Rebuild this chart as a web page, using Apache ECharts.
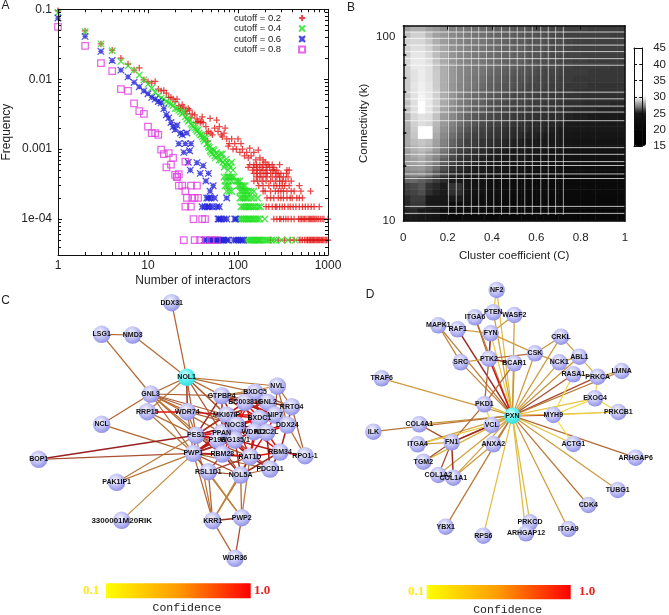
<!DOCTYPE html>
<html><head><meta charset="utf-8">
<style>html,body{margin:0;padding:0;background:#fff}#c{width:669px;height:615px;filter:blur(.4px)}</style>
<script src="https://cdn.jsdelivr.net/npm/echarts@6/dist/echarts.min.js"></script></head>
<body><div id="c"></div>
<script>
/* ---------- panel A ---------- */
const seriesNames = ['cutoff = 0.2','cutoff = 0.4','cutoff = 0.6','cutoff = 0.8'];
const xTickValues = [1,10,100,1000];
const yTickValues = [1e-4,1e-3,0.01,0.1];
const yTickLabels = {'0.0001':'1e-04','0.001':'0.001','0.01':'0.01','0.1':'0.1'};
const redPoints = [[1,.095],[2,.049],[3,.032],[4,.026],[5,.02],[6,.0165],[7,.0135],[8,.0145],[9,.0098],[10,.0092],[11,.0088],[12,.0093],[13,.0072],[14,.0068],[15,.0069],[16,.0063],[17,.0055],[18,.0055],[19,.0052],[20,.0048],[21,.0052],[22,.0042],[23,.0038],[24,.0043],[25,.004],[26,.0035],[27,.0032],[28,.0038],[29,.0036],[30,.0028],[31,.0032],[33,.0031],[34,.0024],[35,.0027],[36,.0025],[38,.0024],[39,.0025],[40,.0029],[41,.0024],[44,.0021],[45,.0017],[46,.0013],[47,.0018],[49,.00275],[50,.0017],[52,.0016],[55,.002],[58,.0026],[60,.0018],[62,.0021],[65,.0016],[67,.0015],[70,.0017],[72,.002],[75,.0014],[78,.0011],[80,.0012],[85,.0014],[88,.001],[92,.0012],[96,.001],[100,.0014],[105,.0009],[108,.0012],[112,.001],[118,.0008],[125,.0009],[130,.00075],[135,.00103],[140,.0008],[150,.0009],[158,.0007],[168,.00097],[175,.00075],[190,.0007],[200,.00065]];
const redLevels = {
 '6e-4':[135,150,160,175,190,210,220,240,290],
 '5.5e-4':[130,150,165,185,205,225,250],
 '5e-4':[145,160,175,190,210,240,250,270,350,370],
 '4.5e-4':[150,165,180,200,210,230,260,280,300,345],
 '4e-4':[160,175,190,210,240,270,290,320,360],
 '3.5e-4':[150,165,185,205,230,260,290,310,340,390],
 '3e-4':[170,190,220,250,270,290,310,330,370,480],
 '2.5e-4':[190,200,230,260,280,300,320,350,390,420,500,640],
 '2e-4':[210,230,250,280,300,320,350,380,400,450,480,520],
 '1.5e-4':[205,220,240,260,270,290,310,330,360,380,410,440,480,520,560,600,650,700,800],
 '1e-4':[250,270,290,300,320,340,360,390,420,470,490,510,530,550,570,600,620,640,660,680,700,720,750,780,820,860,900,1000],
 '5e-5':[230,280,330,380,420,480,500,520,550,570,590,600,620,640,650,670,690,700,720,740,760,780,800,820,850,870,900,930,960,1000]};
const greenPoints = [[1,.09],[2,.048],[3,.032],[4,.0255],[5,.018],[6,.0155],[7,.0135],[8,.0115],[9,.0098],[10,.0085],[11,.0075],[12,.0065],[13,.0058],[14,.0054],[15,.0052],[16,.0048],[17,.0046],[18,.0044],[19,.0042],[20,.0038],[21,.0038],[22,.0036],[23,.0034],[24,.0032],[25,.0034],[26,.0029],[27,.0027],[28,.0025],[29,.0026],[30,.0023],[31,.0022],[32,.0021],[33,.002],[34,.0019],[35,.0018],[36,.0019],[37,.0017],[38,.0016],[39,.0016],[40,.0015],[41,.0014],[42,.0013],[43,.0015],[44,.0014],[45,.0012],[46,.0012],[47,.0011],[48,.00105],[49,.00095],[50,.0009],[52,.00085],[53,.001],[54,.00095],[55,.0008],[56,.00075],[58,.0009],[60,.0008],[62,.0007],[64,.00085],[65,.0007],[67,.00085],[68,.00065],[70,.00055],[72,.0006],[74,.00072],[75,.00065],[78,.0005],[80,.0006],[82,.00055],[85,.00065],[88,.0005]];
const greenLevels = {
 '4e-4':[70,75,78,82,85,90],
 '3.5e-4':[72,78,85,95,100,105],
 '3e-4':[72,76,80,100,105,110,115,120],
 '2.5e-4':[75,80,85,105,110,115,120,125,130,140,150],
 '2e-4':[105,110,115,120,125,130,140,150,165],
 '1.5e-4':[108,113,118,123,128,133,138,145,152,160,170,178],
 '1e-4':[102,108,113,118,123,128,133,138,145,150,158,165,175,198],
 '5e-5':[125,130,135,140,145,150,155,160,165,170,175,180,190,200,210,220,235,250,265,305,360,430]};
const bluePoints = [[1,.075],[2,.041],[3,.025],[4,.0185],[5,.0135],[6,.0108],[7,.009],[8,.0078],[9,.0068],[10,.0062],[11,.0055],[12,.0052],[13,.0048],[14,.0046],[15,.0038],[16,.0031],[17,.0028],[18,.0024],[19,.0021],[20,.0019],[21,.0022],[22,.0012],[23,.0017],[24,.0016],[25,.0009],[26,.0012],[27,.0017],[28,.00065],[29,.00095],[30,.0012],[29.5,.0005],[35,.00064],[38,.00045],[41,.00058],[44,.00035],[47,.00045],[49,.00025],[53,.0003]];
const blueLevels = {
 '2e-4':[45,47,50,55,75],
 '1.5e-4':[40,43,46,48,52,58,62],
 '1e-4':[60,62,65,70,75,92,95],
 '5e-5':[42,45,48,50,53,55,58,60,63,65,68,70,75,78,90,95,100,105,110,115]};
const magentaPoints = [[1,.056],[2,.03],[3,.017],[4,.013],[5,.0072],[6,.0068],[7,.0045],[8,.0035],[9,.0032],[10,.0021],[11,.0017],[12,.0017],[13,.0016],[14,.00098],[15,.00085],[16,.00055],[17,.00088],[18,.0006],[19,.00075],[20,.00043],[21,.0004],[22,.00044],[26,.00066]];
const magentaLevels = {
 '4e-4':[21],
 '3e-4':[22,24,30,35],
 '2.5e-4':[26],
 '2e-4':[27,31,33,36],
 '1.5e-4':[26,30],
 '1e-4':[32,40,43],
 '5e-5':[25,33,38,44,50,58]};

/* ---------- panel B ---------- */
const heatRows = [
[28.0,28.3,28.3,28.0,27.8,27.5,27.2,27.0,26.9,26.8,26.7,26.6,26.5,26.5,26.4,26.3,26.3,26.2,26.1,26.1,26.0,26.0,25.9,25.9,25.9,25.8,25.8,25.8,25.8,25.8],
[28.6,29.0,29.0,28.5,28.0,27.8,27.4,27.2,27.0,26.9,26.8,26.7,26.6,26.5,26.5,26.4,26.3,26.3,26.2,26.2,26.1,26.0,25.9,25.9,25.9,25.9,25.9,25.9,25.8,25.8],
[29.0,29.2,29.2,28.8,28.3,27.9,27.5,27.3,27.1,27.0,26.9,26.8,26.7,26.6,26.5,26.4,26.4,26.3,26.3,26.2,26.1,26.1,26.0,25.9,25.9,25.9,25.9,25.9,25.9,25.9],
[29.0,29.4,29.4,29.0,28.5,28.1,27.6,27.4,27.2,27.0,26.9,26.8,26.7,26.6,26.6,26.5,26.4,26.3,26.3,26.2,26.1,26.1,26.0,25.9,25.9,25.9,25.9,25.9,25.9,25.9],
[29.0,29.6,29.6,29.2,28.6,28.2,27.7,27.4,27.2,27.0,26.9,26.8,26.7,26.6,26.6,26.5,26.4,26.3,26.3,26.2,26.1,26.1,26.0,26.0,25.9,25.9,25.9,25.9,25.9,25.9],
[29.1,29.7,29.7,29.4,28.7,28.2,27.7,27.4,27.2,27.0,26.9,26.8,26.7,26.6,26.5,26.5,26.4,26.3,26.2,26.2,26.1,26.0,26.0,25.9,25.9,25.8,25.8,25.8,25.8,25.8],
[29.0,29.7,29.7,29.5,28.8,28.3,27.8,27.4,27.2,27.0,26.9,26.8,26.7,26.6,26.5,26.4,26.3,26.3,26.2,26.1,26.1,26.0,25.9,25.8,25.8,25.8,25.8,25.8,25.7,25.7],
[29.0,29.5,29.8,29.5,28.9,28.3,27.8,27.4,27.2,27.0,26.9,26.7,26.6,26.5,26.4,26.3,26.3,26.2,26.1,26.0,26.0,25.9,25.8,25.8,25.8,25.7,25.7,25.7,25.7,25.7],
[28.9,29.5,29.8,29.5,28.9,28.3,27.8,27.4,27.1,26.9,26.8,26.6,26.5,26.4,26.3,26.2,26.2,26.1,26.0,26.0,25.9,25.8,25.8,25.7,25.7,25.7,25.7,25.7,25.7,25.7],
[28.9,29.6,29.9,29.6,28.9,28.3,27.7,27.3,27.1,26.9,26.7,26.5,26.4,26.3,26.3,26.2,26.1,26.0,26.0,25.9,25.8,25.8,25.7,25.7,25.7,25.6,25.6,25.6,25.6,25.6],
[28.9,29.5,29.9,29.6,29.0,28.3,27.7,27.3,27.0,26.8,26.6,26.5,26.4,26.3,26.2,26.1,26.0,26.0,25.9,25.8,25.8,25.7,25.7,25.6,25.6,25.6,25.6,25.6,25.6,25.6],
[28.8,29.5,30.2,29.7,29.0,28.3,27.7,27.2,26.9,26.7,26.6,26.4,26.3,26.2,26.1,26.0,26.0,25.9,25.8,25.8,25.7,25.7,25.6,25.6,25.5,25.5,25.5,25.5,25.5,25.5],
[28.6,29.4,33.0,29.7,29.0,28.2,27.6,27.1,26.9,26.6,26.5,26.3,26.2,26.1,26.0,26.0,25.9,25.8,25.8,25.7,25.7,25.6,25.5,25.5,25.4,25.4,25.4,25.4,25.3,25.3],
[28.6,29.4,33.0,29.6,28.9,28.1,27.5,27.0,26.8,26.5,26.4,26.2,26.1,26.0,25.9,25.8,25.8,25.7,25.7,25.6,25.6,25.5,25.4,25.3,25.3,25.3,25.2,25.2,25.2,25.2],
[28.4,29.2,29.5,29.4,28.7,27.9,27.4,26.9,26.6,26.4,26.2,26.1,26.0,25.9,25.8,25.7,25.6,25.6,25.5,25.5,25.4,25.4,25.2,25.1,25.1,25.0,25.0,25.0,25.0,25.0],
[28.3,29.0,29.4,29.2,28.5,27.8,27.2,26.8,26.5,26.3,26.1,26.0,25.9,25.8,25.7,25.6,25.5,25.4,25.4,25.3,25.3,25.2,25.0,25.0,24.9,24.8,24.8,24.8,24.8,24.8],
[28.2,28.9,38.0,38.0,28.4,27.6,27.0,26.6,26.3,26.1,25.9,25.8,25.7,25.6,25.5,25.4,25.4,25.3,25.3,25.2,25.1,25.0,24.8,24.6,24.5,24.5,24.5,24.5,24.5,24.5],
[28.2,28.8,38.0,38.0,28.2,27.4,26.8,26.4,26.1,25.9,25.8,25.7,25.6,25.5,25.4,25.3,25.2,25.2,25.1,25.0,25.0,24.8,24.4,24.2,24.2,24.2,24.2,24.2,24.0,24.0],
[28.2,28.6,28.8,28.6,28.0,27.2,26.6,26.2,25.9,25.8,25.6,25.5,25.4,25.3,25.2,25.1,25.0,25.0,24.8,24.6,24.5,24.4,24.0,23.8,23.6,23.5,23.5,23.5,23.5,23.5],
[28.0,28.4,28.6,28.4,27.8,27.0,26.4,26.0,25.8,25.6,25.4,25.3,25.2,25.1,25.0,24.9,24.8,24.6,24.4,24.2,24.0,23.8,23.5,23.4,23.3,23.3,23.3,23.3,23.3,23.3],
[27.8,28.2,28.4,28.0,27.5,26.8,26.2,25.8,25.6,25.4,25.3,25.2,25.1,25.0,24.8,24.6,24.4,24.2,24.0,23.8,23.6,23.5,23.3,23.2,23.2,23.1,23.1,23.1,23.1,23.1],
[27.8,28.0,28.2,27.8,27.2,26.5,26.0,25.6,25.4,25.3,25.1,25.0,24.8,24.6,24.4,24.2,24.0,23.8,23.6,23.4,23.3,23.2,23.1,23.0,23.0,22.9,22.9,22.9,22.9,22.9],
[27.6,27.8,27.9,27.4,26.8,26.2,25.6,25.4,25.2,25.0,24.8,24.5,24.2,24.0,23.8,23.6,23.4,23.2,23.0,22.9,22.8,22.6,22.5,22.4,22.4,22.3,22.3,22.3,22.3,22.3],
[27.2,27.4,27.5,27.0,26.4,25.9,25.4,25.2,25.0,24.6,24.2,24.0,23.6,23.4,23.2,23.0,22.8,22.6,22.5,22.4,22.3,22.2,22.1,22.0,22.0,22.0,22.0,22.0,22.0,22.0],
[26.6,26.7,26.5,26.2,25.8,25.4,25.0,24.6,24.0,23.6,23.3,23.0,22.8,22.6,22.4,22.3,22.2,22.1,22.0,22.0,21.9,21.8,21.8,21.7,21.7,21.7,21.6,21.6,21.6,21.6],
[25.9,26.1,26.3,25.6,25.3,25.0,25.6,25.6,24.4,23.6,23.2,22.8,22.6,22.4,22.2,22.1,22.0,21.9,21.8,21.8,21.7,21.6,21.5,21.5,21.5,21.4,21.4,21.4,21.4,21.4],
[25.8,26.0,26.2,25.5,25.2,25.0,25.5,25.5,24.2,23.4,23.0,22.6,22.4,22.2,22.0,21.9,21.8,21.7,21.6,21.6,21.5,21.5,21.4,21.4,21.3,21.3,21.3,21.3,21.3,21.3],
[25.4,25.8,25.8,25.0,24.8,24.4,25.0,25.0,23.6,23.0,22.6,22.4,22.2,22.0,21.8,21.7,21.6,21.5,21.5,21.4,21.4,21.3,21.2,21.2,21.2,21.1,21.1,21.1,21.1,21.1],
[25.3,25.7,25.7,24.9,24.6,24.0,22.0,22.0,22.5,22.4,22.2,22.0,21.8,21.7,21.6,21.5,21.4,21.3,21.3,21.2,21.2,21.1,21.1,21.0,21.0,21.0,21.0,21.0,21.0,21.0],
[25.2,25.3,24.9,24.6,24.0,22.5,21.5,21.6,21.6,21.5,21.5,21.4,21.4,21.3,21.3,21.2,21.2,21.1,21.1,21.0,21.0,21.0,20.9,20.9,20.9,20.8,20.8,20.8,20.8,20.8],
[24.8,25.0,24.4,24.0,23.6,22.0,21.0,21.0,21.0,20.9,20.9,20.8,20.8,20.8,20.7,20.7,20.7,20.6,20.6,20.6,20.5,20.5,20.5,20.4,20.4,20.4,20.4,20.4,20.4,20.4]];
const whiteRowsK = [106,98,90,83,76,70,50,46,42,39,35,25,23,21,20,18,17,12,11];
const whiteColsC = [0.204,0.239,0.272,0.307,0.34,0.375,0.408,0.443,0.48,0.514,0.548,0.582,0.62,0.654,0.687,0.722];
const xTicksB = [0,0.2,0.4,0.6,0.8,1];
const yMajorB = [10,100];
const yMinorB = [20,30,40,50,60,70,80,90,100];
const colorbarTicks = [15,20,25,30,35,40,45];

/* ---------- panel C network ---------- */
const cNodes = [['DDX31',515,38],['LSG1',305,133],['NMD3',398,135],['NOL1',560,262],['GNL3',452,312],['GTPBP4',665,317],['BXDC5',765,307],['NVL',832,288],['BC003816',735,337],['GNL2',803,337],['RRTO4',875,350],['RRP15',442,365],['WDR74',562,365],['MKI67IP',680,375],['NIP7',825,375],['BXDC1',778,385],['NOC3L',710,405],['DDX24',862,405],['NCL',305,403],['PES1',588,436],['PPAN',665,428],['WDR12',762,425],['NOC2L',800,427],['P19B',652,450],['WG135/1',705,450],['BOP1',116,508],['PWP1',580,490],['RBM28',667,492],['RAT1D',750,500],['RBM34',840,486],['RPO1-1',915,497],['PDCD11',810,537],['RSL1D1',625,545],['NOL5A',722,555],['PAK1IP1',350,577],['3300001M20RIK',365,691],['KRR1',638,692],['PWP2',725,683],['WDR36',705,805]];
const cEdges = [['DDX31','NOL1',.62],['LSG1','NMD3',.62],['LSG1','GNL3',.6],['NMD3','NOL1',.6],['NOL1','GNL3',.6],['NOL1','WDR74',.8],['NOL1','PES1',.65],['NOL1','GTPBP4',.6],['NOL1','BXDC5',.6],['NOL1','MKI67IP',.6],['NOL1','RRP15',.55],['NOL1','NOC3L',.65],['NOL1','PPAN',.65],['NOL1','NVL',.55],
['GNL3','NCL',.62],['GNL3','GTPBP4',.65],['GNL3','RRP15',.6],['GNL3','WDR74',.6],['GNL3','PES1',.6],['GNL3','PWP1',.6],['GNL3','MKI67IP',.65],['GNL3','NOC3L',.65],['GNL3','RBM28',.55],['GNL3','PPAN',.6],
['NCL','PWP1',.62],['BOP1','PES1',.85],['BOP1','PWP1',.7],['PAK1IP1','PWP1',.55],['PAK1IP1','PES1',.55],['3300001M20RIK','PWP1',.48],['RRP15','WDR74',1],['RRP15','PES1',.6],['RRP15','PWP1',.55],['WDR74','MKI67IP',.95],['WDR74','PES1',.6],['WDR74','PWP1',.6],['WDR74','NOC3L',.65],
['KRR1','PWP2',.8],['KRR1','WDR36',.62],['PWP2','WDR36',.72],['KRR1','PWP1',.62],['KRR1','RSL1D1',.62],['KRR1','NOL5A',.6],['KRR1','PES1',.55],['PWP2','PWP1',.55],['PWP2','RSL1D1',.5],['PWP2','NOL5A',.62],['PWP2','RAT1D',.55],['KRR1','RAT1D',.5],
['PES1','PPAN',1],['PES1','P19B',1],['PES1','WG135/1',.95],['PES1','NOC3L',1],['PES1','MKI67IP',.95],['PES1','WDR12',1],['PES1','BXDC1',.9],['PES1','RBM28',.8],['PES1','RAT1D',.7],['PES1','PWP1',.8],['PES1','BC003816',.75],['PES1','GTPBP4',.8],
['PWP1','RBM28',1],['PWP1','RAT1D',.8],['PWP1','P19B',.95],['PWP1','WG135/1',.9],['PWP1','NOL5A',.7],['PWP1','RSL1D1',.7],['PWP1','PPAN',.95],['PWP1','NOC3L',.9],['PWP1','WDR12',.8],['PWP1','PDCD11',.6],
['PPAN','NOC3L',1],['PPAN','WDR12',1],['PPAN','MKI67IP',1],['PPAN','BXDC1',.95],['PPAN','RAT1D',.85],['PPAN','GTPBP4',.8],['MKI67IP','NOC3L',1],['MKI67IP','BXDC1',1],['MKI67IP','GNL2',.8],['MKI67IP','BC003816',.95],['MKI67IP','NIP7',.95],['MKI67IP','WDR12',1],
['GTPBP4','BXDC5',.65],['GTPBP4','NVL',.5],['GTPBP4','BC003816',.9],['GTPBP4','NOC3L',.85],['GTPBP4','BXDC1',.9],['GTPBP4','GNL2',.7],['GTPBP4','RRTO4',.65],['GTPBP4','NIP7',.8],
['BXDC5','BXDC1',1],['BXDC5','GNL2',.9],['BXDC5','NIP7',.85],['BXDC5','RRTO4',.7],['BXDC5','NOC3L',1],['BC003816','BXDC1',1],['BC003816','NOC3L',1],['BC003816','NIP7',.95],['BC003816','WDR12',1],['BC003816','GNL2',.95],['BC003816','DDX24',.9],['NVL','RRTO4',.6],['NVL','DDX24',.6],['NVL','NIP7',.65],['GNL2','NIP7',.95],['GNL2','RRTO4',.8],['GNL2','DDX24',.9],['GNL2','BXDC1',1],['RRTO4','DDX24',.8],['RRTO4','RPO1-1',.65],['NIP7','DDX24',1],['NIP7','WDR12',1],['NIP7','NOC2L',1],['BXDC1','NOC3L',1],['BXDC1','WDR12',1],['BXDC1','NOC2L',1],['BXDC1','RAT1D',1],['NOC3L','WDR12',1],['NOC3L','WG135/1',1],['NOC3L','P19B',1],['NOC3L','RBM28',.95],['NOC3L','RAT1D',1],['WDR12','NOC2L',1],['WDR12','RAT1D',1],['WDR12','RBM34',1],['WDR12','WG135/1',1],['WDR12','DDX24',1],['NOC2L','RBM34',1],['NOC2L','RAT1D',1],['NOC2L','DDX24',1],['NOC2L','PDCD11',.85],['DDX24','RBM34',.9],['DDX24','RPO1-1',.6],['RBM34','RPO1-1',1],['RBM34','RAT1D',1],['RBM34','PDCD11',.85],['RBM34','NOL5A',.8],['RBM34','WG135/1',.9],
['RAT1D','RBM28',1],['RAT1D','NOL5A',.9],['RAT1D','PDCD11',.9],['RAT1D','RSL1D1',.75],['RAT1D','WG135/1',1],['RBM28','NOL5A',.8],['RBM28','RSL1D1',.75],['RBM28','WG135/1',.95],['RBM28','P19B',.9],['RSL1D1','NOL5A',.7],['NOL5A','PDCD11',.65],['NOL5A','WG135/1',.8],['NOL5A','P19B',.7],['PDCD11','WG135/1',.75],['P19B','WG135/1',1],['PPAN','WG135/1',1],['PPAN','P19B',1]];

/* ---------- panel D network ---------- */
const dNodes = [['NF2',470,30],['PTEN',460,97],['WASF2',523,105],['ITGA6',405,112],['MAPK1',295,136],['RAF1',353,148],['FYN',452,160],['CRKL',663,170],['CSK',585,220],['PTK2',447,236],['SRC',362,247],['BCAR1',523,250],['NCK1',658,247],['ABL1',718,230],['RASA1',700,283],['PRKCA',773,290],['LMNA',845,273],['TRAF6',125,295],['EXOC4',765,355],['PKD1',433,373],['PXN',517,407],['MYH9',640,405],['PRKCB1',835,396],['VCL',455,435],['COL4A1',238,433],['ILK',100,455],['FN1',335,487],['ITGA4',233,493],['ANXA2',460,493],['ACTG1',700,492],['ARHGAP6',887,533],['TGM2',250,545],['COL1A2',295,585],['COL1A1',340,593],['TUBG1',833,630],['CDK4',745,675],['YBX1',317,740],['PRKCD',570,727],['ARHGAP12',558,760],['RPS6',430,767],['ITGA9',685,747]];
const dEdges = [['PXN','NF2',.32],['PTEN','NF2',.3],['PXN','PTEN',.4],['PXN','WASF2',.4],['PXN','ITGA6',.55],['PXN','MAPK1',.55],['PXN','RAF1',.82],['PXN','FYN',.28],['PXN','CRKL',.42],['PXN','CSK',.42],['PXN','PTK2',.95],['PXN','SRC',.5],['PXN','BCAR1',.45],['PXN','NCK1',.42],['PXN','ABL1',.45],['PXN','RASA1',.7],['PXN','PRKCA',.72],['PXN','LMNA',.55],['PXN','TRAF6',.42],['PXN','EXOC4',.3],['PXN','PKD1',.32],['PXN','MYH9',.9],['PXN','PRKCB1',.3],['PXN','VCL',.6],['PXN','COL4A1',.45],['PXN','ILK',.55],['PXN','FN1',.42],['PXN','ITGA4',.38],['PXN','ANXA2',.45],['PXN','ACTG1',.3],['PXN','ARHGAP6',.6],['PXN','TGM2',.35],['PXN','COL1A2',.4],['PXN','COL1A1',.4],['PXN','TUBG1',.42],['PXN','CDK4',.55],['PXN','YBX1',.55],['PXN','PRKCD',.33],['PXN','ARHGAP12',.33],['PXN','RPS6',.32],['PXN','ITGA9',.42],
['RAF1','FYN',.4],['WASF2','FYN',.42],['ITGA6','PTK2',.6],['MAPK1','SRC',.5],['FYN','CSK',.42],['FYN','PTK2',.82],['PTK2','CSK',.6],['PTK2','SRC',.42],['PTK2','BCAR1',.8],['PTK2','PKD1',.62],['BCAR1','PKD1',.62],['PKD1','FN1',.62],['CSK','NCK1',.45],['CRKL','CSK',.45],['CRKL','ABL1',.42],['ABL1','NCK1',.42],['RASA1','MYH9',.25],['PRKCA','EXOC4',.25],['PRKCA','LMNA',.42],['PRKCA','RASA1',.35],['ABL1','PRKCA',.35],['EXOC4','PRKCB1',.25],['EXOC4','MYH9',.25],['MYH9','PRKCB1',.28],['MYH9','ACTG1',.22],['PKD1','VCL',.25],['COL4A1','FN1',.7],['FN1','VCL',.85],['FN1','ITGA4',.4],['FN1','TGM2',.72],['FN1','COL1A2',.72],['FN1','COL1A1',.8],['VCL','ITGA4',.3],['ANXA2','COL1A1',.42]];
const confidenceTicks = ['0.1','1.0'];

/* ---------- styles ---------- */
const FONT='"Liberation Sans",Arial,sans-serif', INK='#222';
const sym = {
 plus:'path://M5 0V10M0 5H10',
 cross:'path://M0 0L10 10M10 0L0 10',
 star:'path://M0 0L10 10M10 0L0 10M5 1V9M1 5H9'
};
const confStops=['#f8f020','#f0d840','#d0a040','#b87838','#a85030','#982020','#e81010'];
const edgeColor=c=>echarts.color.lerp(Math.min(1,Math.max(0,(c-.1)/.9)),confStops);
const decadeTicks=(lo,hi)=>{const a=[];for(let d=lo;d<=hi;d++)for(let m=2;m<=9;m++)a.push(+(m+'e'+d));return a;};
const expand=(points,levels)=>points.concat(...Object.keys(levels).map(k=>levels[k].map(x=>[x,+k])));

function tickAxis(type,pos,grid,extra,len,vals,lineW){
  return Object.assign({type,gridIndex:grid,position:pos,z:10,silent:true,
    axisLine:{show:lineW>0,onZero:false,lineStyle:{color:'#111',width:lineW||1}},
    axisTick:{show:true,inside:true,length:len,lineStyle:{color:'#111',width:1},customValues:vals},
    axisLabel:{show:false},splitLine:{show:false},minorTick:{show:false}},extra);
}
const xA={min:1,max:1000,logBase:10}, yA={min:3.06e-5,max:0.1,logBase:10};
const xAminor=decadeTicks(0,2), yAminor=decadeTicks(-5,-2);
const labelStyle={show:true,color:INK,fontFamily:FONT};

const xAxes=[
 Object.assign(tickAxis('log','bottom',0,xA,4,xTickValues,1),{name:'Number of interactors',nameLocation:'middle',nameGap:20,nameTextStyle:{color:INK,fontFamily:FONT,fontSize:12},
   axisLabel:Object.assign({},labelStyle,{fontSize:12,margin:5,customValues:xTickValues,formatter:v=>String(Math.round(v))})}),
 tickAxis('log','top',0,xA,4,xTickValues,1),
 tickAxis('log','bottom',0,xA,3,xAminor,0),
 tickAxis('log','top',0,xA,3,xAminor,0),
 {type:'category',gridIndex:1,data:heatRows[0].map((_,i)=>i),show:false},
 Object.assign(tickAxis('value','bottom',2,{min:0,max:1,interval:0.2},0,xTicksB,1.5),{name:'Cluster coefficient (C)',nameLocation:'middle',nameGap:29,nameTextStyle:{color:INK,fontFamily:FONT,fontSize:11.5},
   axisLabel:Object.assign({},labelStyle,{fontSize:11.5,margin:11,formatter:v=>String(v)})}),
 tickAxis('value','top',2,{min:0,max:1,interval:0.2},4,[0.2,0.4,0.6,0.8],1.5),
 Object.assign(tickAxis('value','bottom',3,{min:0,max:1},0,[],1),{axisTick:{show:false}}),
 Object.assign(tickAxis('value','top',3,{min:0,max:1},0,[],1),{axisTick:{show:false}}),
 {type:'value',gridIndex:4,min:0,max:1020,show:false},
 {type:'value',gridIndex:5,min:0,max:987,show:false}
];
const yB={min:10,max:114.7,logBase:10};
const yAxes=[
 Object.assign(tickAxis('log','left',0,yA,4,yTickValues,1),{name:'Frequency',nameLocation:'middle',nameGap:45,nameRotate:90,nameTextStyle:{color:INK,fontFamily:FONT,fontSize:12},
   axisLabel:Object.assign({},labelStyle,{fontSize:12,margin:6,customValues:yTickValues,formatter:v=>yTickLabels[String(+v.toPrecision(3))]||''})}),
 tickAxis('log','right',0,yA,4,yTickValues,1),
 tickAxis('log','left',0,yA,3,yAminor,0),
 tickAxis('log','right',0,yA,3,yAminor,0),
 {type:'category',gridIndex:1,inverse:true,data:heatRows.map((_,i)=>i),show:false},
 Object.assign(tickAxis('log','left',2,yB,3,yMinorB,1.5),{name:'Connectivity (k)',nameLocation:'middle',nameGap:33,nameRotate:90,nameTextStyle:{color:INK,fontFamily:FONT,fontSize:11.5},
   axisTick:{show:true,inside:true,length:3,lineStyle:{color:'#000',width:1.5},customValues:yMinorB},
   axisLabel:Object.assign({},labelStyle,{fontSize:11.5,margin:8,customValues:yMajorB,formatter:v=>String(Math.round(v))})}),
 tickAxis('log','right',2,yB,0,[],1.5),
 Object.assign(tickAxis('value','right',3,{min:15,max:45,interval:5},3,colorbarTicks,1),{
   axisLabel:Object.assign({},labelStyle,{fontSize:11.5,margin:11})}),
 tickAxis('value','left',3,{min:15,max:45,interval:5},3,colorbarTicks,1),
 {type:'value',gridIndex:4,inverse:true,min:0,max:975,show:false},
 {type:'value',gridIndex:5,inverse:true,min:0,max:1005,show:false}
];

const ballColor=(a,b,c)=>({type:'radial',x:.42,y:.36,r:.72,colorStops:[{offset:0,color:a},{offset:.5,color:b},{offset:1,color:c}]});
function network(nodes,edges,xi,yi,hub,size){
  return {type:'graph',coordinateSystem:'cartesian2d',xAxisIndex:xi,yAxisIndex:yi,layout:'none',silent:true,z:3,
    symbol:'circle',symbolSize:size,
    label:{show:true,position:'inside',color:'#111',fontFamily:FONT,fontWeight:'bold',fontSize:7},
    data:nodes.map(n=>({name:n[0],value:[n[1],n[2]],
      label:n[0].length>12?{fontSize:8}:undefined,
      itemStyle:{color:n[0]===hub?ballColor('#e4ffff','#58f0f0','#30d8d8'):ballColor('#f6f6ff','#c0c0f6','#8484e2')}})),
    links:edges.map(e=>({source:e[0],target:e[1],lineStyle:{color:edgeColor(e[2]),width:e[2]>=.8?1.5:1.25,opacity:1,curveness:0}}))};
}
const segs=[];
whiteRowsK.forEach(k=>segs.push([0,k],[1,k],['-','-']));
const vsegs=[];
whiteColsC.forEach(c=>vsegs.push([c,114.7],[c,10.8],['-','-']));
const lineStyleWhite=(o)=>({color:'rgba(255,255,255,'+o+')',width:1});

function scatter(name,pts,symbol,size,color,lw){
  return {type:'scatter',name,xAxisIndex:0,yAxisIndex:0,data:pts,symbol,symbolSize:size,clip:false,silent:true,z:3,
    itemStyle:{color:'transparent',borderColor:color,borderWidth:lw}};
}

const barGrad=()=>new echarts.graphic.LinearGradient(0,0,1,0,[{offset:0,color:'#ffff00'},{offset:.5,color:'#ff9a00'},{offset:1,color:'#ff0000'}]);
const txt=(x,y,s,fill,font,align)=>({type:'text',x,y,silent:true,style:{text:s,fill,font,textAlign:align||'center',textVerticalAlign:'middle'}});
const gradBar=(x,y,w,h)=>({type:'rect',x,y,silent:true,shape:{width:w,height:h},style:{fill:barGrad()}});
const letter='12px "Liberation Sans"', tickF='bold 13px "Liberation Serif"', confF='11.5px "Liberation Mono"';

const chart=echarts.init(document.getElementById('c'),null,{renderer:'canvas'});
chart.setOption({
 animation:false,backgroundColor:'#fff',
 grid:[
  {left:57.3,top:9.3,width:270.7,height:245.7},
  {left:403.3,top:25.7,width:221.7,height:195.3},
  {left:403.3,top:25.7,width:221.7,height:195.3},
  {left:634,top:48,width:12,height:98},
  {left:0,top:290,width:340,height:325},
  {left:340,top:280,width:329,height:335}
 ],
 xAxis:xAxes,yAxis:yAxes,
 legend:{data:seriesNames,left:234,top:13,orient:'vertical',align:'right',itemWidth:6,itemHeight:6,itemGap:0.5,padding:0,selectedMode:false,
   textStyle:{color:INK,fontFamily:FONT,fontSize:9.5,padding:[0,13,0,0]}},
 visualMap:{type:'continuous',seriesIndex:4,dimension:2,min:15,max:45,show:true,left:634,top:48,itemWidth:12,itemHeight:98,padding:0,calculable:false,realtime:false,text:null,showLabel:false,hoverLink:false,silent:true,
   textStyle:{fontSize:0,color:'transparent'},
   inRange:{color:['#000','#010101','#020202','#030303','#040404','#060606','#090909','#0c0c0c','#101010','#151515','#1a1a1a','#444444','#7a7a7a','#a0a0a0','#d0d0d0','#f4f4f4','#fff','#fff','#fff','#fff','#fff','#fff','#fff','#fff','#fff','#fff','#fff','#fff','#fff','#fff','#fff']}},
 series:[
  scatter(seriesNames[0],expand(redPoints,redLevels),sym.plus,6.5,'#e01818',1.25),
  scatter(seriesNames[1],expand(greenPoints,greenLevels),sym.cross,6.5,'#20e020',1.25),
  scatter(seriesNames[2],expand(bluePoints,blueLevels),sym.star,6.5,'#2020d8',1.25),
  scatter(seriesNames[3],expand(magentaPoints,magentaLevels),'rect',6.5,'#e040e0',1.25),
  {type:'heatmap',xAxisIndex:4,yAxisIndex:4,silent:true,progressive:0,z:2,
   data:heatRows.flatMap((r,j)=>r.map((v,i)=>[i,j,v]))},
  {type:'line',xAxisIndex:5,yAxisIndex:5,data:segs,showSymbol:false,silent:true,z:3,connectNulls:false,lineStyle:lineStyleWhite(.72)},
  {type:'line',xAxisIndex:5,yAxisIndex:5,data:vsegs,showSymbol:false,silent:true,z:3,connectNulls:false,lineStyle:lineStyleWhite(.6)},
  network(cNodes,cEdges,9,9,'NOL1',17.5),
  network(dNodes,dEdges,10,10,'PXN',16.5)
 ],
 graphic:{elements:[
  txt(5.5,6,'A','#222',letter),txt(351,8,'B','#222',letter),txt(5.5,301,'C','#222',letter),txt(370,295,'D','#222',letter),
  gradBar(106,583.3,144.7,15),
  txt(91,591,confidenceTicks[0],'#ffe820',tickF),txt(262,591,confidenceTicks[1],'#e82020',tickF),txt(187,608,'Confidence','#222',confF),
  gradBar(426.7,585,144,14.3),
  txt(416,591.7,confidenceTicks[0],'#ffe820',tickF),txt(587,591.7,confidenceTicks[1],'#e82020',tickF),txt(507.7,610,'Confidence','#222',confF)
 ]}
});
</script></body></html>
